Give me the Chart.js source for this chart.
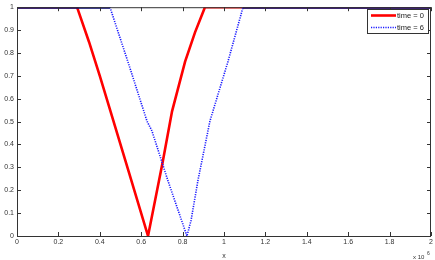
<!DOCTYPE html>
<html><head><meta charset="utf-8">
<script src="https://cdn.jsdelivr.net/npm/chart.js@4"></script>
<style>html,body{margin:0;padding:0;background:#fff}#wrap{width:435px;height:260px}</style>
</head><body><div id="wrap"><canvas id="c" width="435" height="260"></canvas></div>
<script>
const seriesNames = ["time = 0", "time = 6"];
const redX = [0, 0.29, 0.348, 0.40, 0.45, 0.54, 0.633, 0.705, 0.749, 0.812, 0.86, 0.908, 2];
const redY = [1, 1, 0.848, 0.70, 0.55, 0.28, 0, 0.329, 0.545, 0.762, 0.89, 1, 1];
const blueX = [0, 0.449, 0.54, 0.628, 0.652, 0.729, 0.821, 0.841, 0.874, 0.932, 1.019, 1.092, 2];
const blueY = [1, 1, 0.75, 0.502, 0.459, 0.242, 0, 0.069, 0.242, 0.502, 0.762, 1, 1];
const xTicks = [0, 0.2, 0.4, 0.6, 0.8, 1, 1.2, 1.4, 1.6, 1.8, 2];
const yTicks = [0, 0.1, 0.2, 0.3, 0.4, 0.5, 0.6, 0.7, 0.8, 0.9, 1];
const xExponentLabel = "x 10";
const xExponent = "6";
const xTitle = "x";

const FONT = "'Liberation Sans', Arial, sans-serif";
const toPts = (xs, ys) => xs.map((x, i) => ({x: x, y: ys[i]}));
const isFlatTop = ctx => ctx.p0.parsed.y === 1 && ctx.p1.parsed.y === 1;

const boxTicks = {
  id: 'boxTicks',
  afterDatasetsDraw(chart) {
    const {ctx, chartArea: a, scales} = chart;
    ctx.save();
    ctx.strokeStyle = '#333';
    ctx.lineWidth = 1;
    ctx.strokeRect(a.left + 0.5, a.top + 0.5, a.right - a.left - 1, a.bottom - a.top);
    ctx.beginPath();
    const L = 4;
    xTicks.forEach(v => {
      const px = Math.round(scales.x.getPixelForValue(v)) + 0.5;
      ctx.moveTo(px, a.bottom); ctx.lineTo(px, a.bottom - L);
      ctx.moveTo(px, a.top); ctx.lineTo(px, a.top + L);
    });
    yTicks.forEach(v => {
      const py = Math.round(scales.y.getPixelForValue(v)) + 0.5;
      ctx.moveTo(a.left, py); ctx.lineTo(a.left + L, py);
      ctx.moveTo(a.right, py); ctx.lineTo(a.right - L, py);
    });
    ctx.stroke();
    // exponent label
    ctx.fillStyle = '#333';
    ctx.font = '6px ' + FONT;
    ctx.textBaseline = 'alphabetic';
    ctx.textAlign = 'left';
    ctx.fillText(xExponentLabel, a.right - 18, 259);
    ctx.font = '5px ' + FONT;
    ctx.fillText(xExponent, a.right - 4, 255);
    // legend
    const lx = 367, ly = 9, lw = 61, lh = 24;
    ctx.fillStyle = '#fff';
    ctx.fillRect(lx, ly, lw, lh);
    ctx.strokeStyle = '#333';
    ctx.strokeRect(lx + 0.5, ly + 0.5, lw, lh);
    chart.data.datasets.forEach((ds, i) => {
      const yy = ly + 6.5 + i * 12;
      ctx.save();
      ctx.strokeStyle = ds.borderColor;
      ctx.lineWidth = ds.borderWidth;
      ctx.setLineDash(ds.borderDash || []);
      ctx.beginPath(); ctx.moveTo(lx + 4, yy); ctx.lineTo(lx + 29, yy); ctx.stroke();
      ctx.restore();
      ctx.fillStyle = '#222';
      ctx.font = '7.5px ' + FONT;
      ctx.textBaseline = 'middle';
      ctx.fillText(ds.label, lx + 30, yy);
    });
    ctx.restore();
  }
};

new Chart(document.getElementById('c'), {
  type: 'line',
  data: {
    datasets: [
      {label: seriesNames[0], data: toPts(redX, redY), borderColor: '#ff0000', borderWidth: 2.6, pointRadius: 0, tension: 0, order: 2, clip: 0},
      {label: seriesNames[1], data: toPts(blueX, blueY), borderColor: '#1a1aff', borderWidth: 1.6, borderDash: [1.2, 1.2], pointRadius: 0, tension: 0, order: 1, clip: 0,
        segment: {
          borderDash: c => isFlatTop(c) ? [] : [1.2, 1.2],
          borderColor: c => isFlatTop(c) ? '#000080' : '#1a1aff',
          borderWidth: c => isFlatTop(c) ? 3.2 : 1.6
        }}
    ]
  },
  options: {
    responsive: false,
    animation: false,
    devicePixelRatio: 1,
    layout: {padding: {left: 0, right: 4, top: 5, bottom: 0}},
    plugins: {legend: {display: false}, tooltip: {enabled: false}},
    scales: {
      x: {
        type: 'linear', min: 0, max: 2,
        afterBuildTicks: s => { s.ticks = xTicks.map(v => ({value: v})); },
        afterFit: s => { s.height = 24; },
        grid: {display: false, drawTicks: false},
        border: {display: false},
        ticks: {color: '#333', font: {size: 7, family: FONT}, padding: 2, maxRotation: 0, autoSkip: false,
          callback: v => String(v)},
        title: {display: true, text: xTitle, color: '#333', font: {size: 7, family: FONT}, padding: {top: 1, bottom: 0}}
      },
      y: {
        type: 'linear', min: 0, max: 1,
        afterBuildTicks: s => { s.ticks = yTicks.map(v => ({value: v})); },
        afterFit: s => { s.width = 17; },
        grid: {display: false, drawTicks: false},
        border: {display: false},
        ticks: {color: '#333', font: {size: 7, family: FONT}, padding: 3, autoSkip: false,
          callback: v => String(v)}
      }
    }
  },
  plugins: [boxTicks]
});
</script>
</body></html>
